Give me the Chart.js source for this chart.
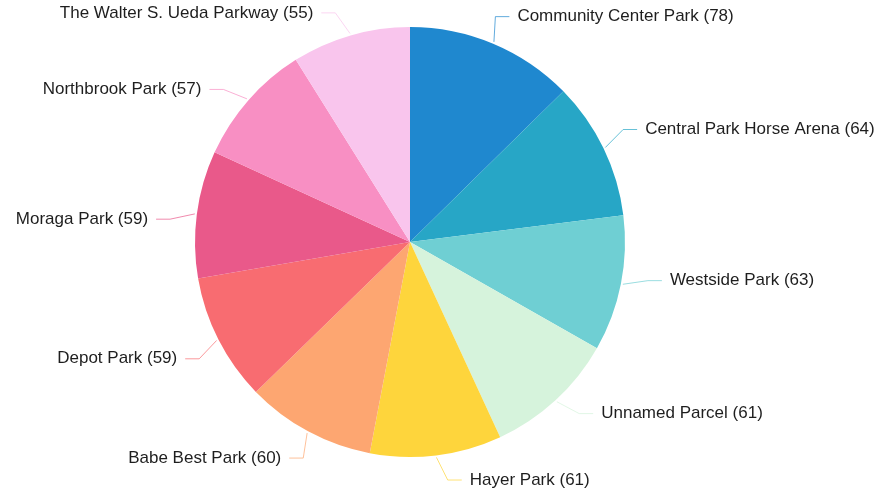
<!DOCTYPE html>
<html>
<head>
<meta charset="utf-8">
<script src="https://cdn.jsdelivr.net/npm/chart.js@4.4.1/dist/chart.umd.min.js"></script>
<style>
  html, body { margin: 0; padding: 0; background: #fff; }
  canvas { display: block; }
</style>
</head>
<body>
<canvas id="parks" width="890" height="490"></canvas>
<script>
// park names, clockwise from 12 o'clock
const parks = [
    "Community Center Park",
    "Central Park Horse Arena",
    "Westside Park",
    "Unnamed Parcel",
    "Hayer Park",
    "Babe Best Park",
    "Depot Park",
    "Moraga Park",
    "Northbrook Park",
    "The Walter S. Ueda Parkway"
]
const counts = [78, 64, 63, 61, 61, 60, 59, 59, 57, 55]
const sliceColors = [
    "#1f88cf", "#27a6c6", "#6fcfd3", "#d6f3dc", "#fed53c",
    "#fda671", "#f86c71", "#e9598a", "#f88fc3", "#f9c5ed"
]

// draws "Name (n)" outside each slice with a small elbow leader line
const outsideLabels = {
    id: 'outsideLabels',
    afterDatasetsDraw(chart) {
        const ctx = chart.ctx
        const meta = chart.getDatasetMeta(0)
        ctx.save()
        ctx.font = '17px "Liberation Sans", Arial, sans-serif'
        ctx.textBaseline = 'middle'
        meta.data.forEach((arc, i) => {
            const p = arc.getProps(['x', 'y', 'startAngle', 'endAngle', 'outerRadius'], true)
            const mid = (p.startAngle + p.endAngle) / 2
            // labels sit a little anticlockwise of the slice middle
            const lab = mid - 0.035
            const x0 = p.x + Math.cos(mid) * (p.outerRadius + 2)
            const y0 = p.y + Math.sin(mid) * (p.outerRadius + 2)
            const x1 = p.x + Math.cos(lab) * (p.outerRadius + 26)
            const y1 = p.y + Math.sin(lab) * (p.outerRadius + 26)
            const right = Math.cos(lab) >= 0
            const x2 = x1 + (right ? 14 : -14)

            ctx.strokeStyle = sliceColors[i]
            ctx.globalAlpha = 0.7
            ctx.lineWidth = 1
            ctx.beginPath()
            ctx.moveTo(x0, y0)
            ctx.lineTo(x1, y1)
            ctx.lineTo(x2, y1)
            ctx.stroke()
            ctx.globalAlpha = 1

            ctx.fillStyle = '#1e1e1e'
            ctx.textAlign = right ? 'left' : 'right'
            ctx.fillText(parks[i] + ' (' + counts[i] + ')', x2 + (right ? 8 : -8), y1)
        })
        ctx.restore()
    }
}

new Chart(document.getElementById('parks'), {
    type: 'pie',
    data: {
        labels: parks,
        datasets: [{
            data: counts,
            backgroundColor: sliceColors,
            borderWidth: 0
        }]
    },
    options: {
        responsive: false,
        animation: false,
        layout: {
            padding: { left: 195, right: 265, top: 27, bottom: 33 }
        },
        plugins: {
            legend: { display: false },
            tooltip: { enabled: false }
        }
    },
    plugins: [outsideLabels]
})
</script>
</body>
</html>
